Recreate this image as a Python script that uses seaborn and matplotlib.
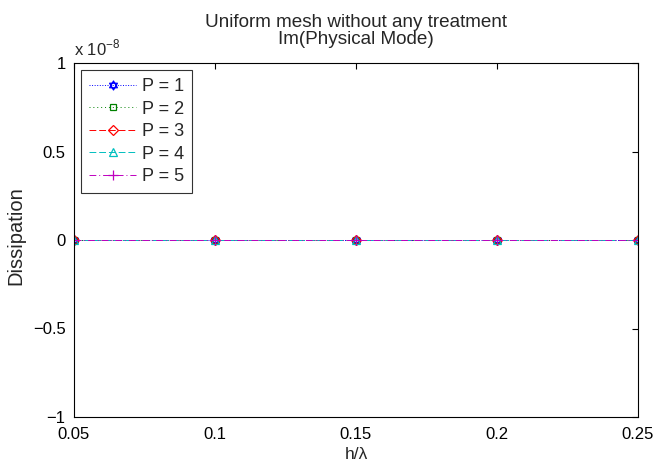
import numpy as np
import pandas as pd
import matplotlib
matplotlib.use("Agg")
import matplotlib.pyplot as plt
from matplotlib.path import Path
import seaborn as sns

# Data
h_over_lambda = [0.05, 0.10, 0.15, 0.20, 0.25]
dissipation_p1 = [0.0, 0.0, 0.0, 0.0, 0.0]
dissipation_p2 = [0.0, 0.0, 0.0, 0.0, 0.0]
dissipation_p3 = [0.0, 0.0, 0.0, 0.0, 0.0]
dissipation_p4 = [0.0, 0.0, 0.0, 0.0, 0.0]
dissipation_p5 = [0.0, 0.0, 0.0, 0.0, 0.0]
series_labels = ["P = 1", "P = 2", "P = 3", "P = 4", "P = 5"]
y_ticks = [-1, -0.5, 0, 0.5, 1]
y_ticklabels = ["\u22121", "\u22120.5", "0", "0.5", "1"]
x_ticks = [0.05, 0.1, 0.15, 0.2, 0.25]
x_ticklabels = ["0.05", "0.1", "0.15", "0.2", "0.25"]
scale = 1e-8

sns.set_theme(style="white")
plt.rcParams['font.family'] = ['Liberation Sans', 'DejaVu Sans']
plt.rcParams['mathtext.fontset'] = 'custom'
plt.rcParams['mathtext.rm'] = 'Liberation Sans'

# hexagram marker
ang1 = np.deg2rad([90, 210, 330])
ang2 = np.deg2rad([270, 30, 150])
verts = [(np.cos(a), np.sin(a)) for a in ang1] + [(0, 0)] + \
        [(np.cos(a), np.sin(a)) for a in ang2] + [(0, 0)]
codes = [Path.MOVETO, Path.LINETO, Path.LINETO, Path.CLOSEPOLY] * 2
hexagram = Path(verts, codes)

styles = [
    dict(color="#0000ff", linestyle=":", marker=hexagram, ms=6.5),
    dict(color="#008000", linestyle=(0, (1, 3)), marker="s", ms=4.5),
    dict(color="#ff0000", linestyle=(0, (7, 3)), marker="D", ms=5),
    dict(color="#00bfbf", linestyle=(0, (7, 3)), marker="^", ms=6),
    dict(color="#bf00bf", linestyle=(0, (7, 3, 1, 3)), marker="+", ms=7),
]
all_series = [dissipation_p1, dissipation_p2, dissipation_p3, dissipation_p4, dissipation_p5]

fig = plt.figure(figsize=(6.54, 4.63), dpi=100)
ax = fig.add_axes([74/654, 1-417/463, (638-74)/654, (417-63)/463])

for vals, lab, st in zip(all_series, series_labels, styles):
    yv = np.array(vals) / scale
    sns.lineplot(x=h_over_lambda, y=yv, ax=ax, label=lab, color=st["color"],
                 linestyle=st["linestyle"], marker=st["marker"], markersize=st["ms"],
                 markerfacecolor="none", markeredgecolor=st["color"],
                 markeredgewidth=0.9, linewidth=0.7, errorbar=None)

ax.set_xlim(0.05, 0.25)
ax.set_ylim(-1, 1)
ax.set_xticks(x_ticks)
ax.set_xticklabels(x_ticklabels)
ax.set_yticks(y_ticks)
ax.set_yticklabels(y_ticklabels)
ax.tick_params(direction="in", top=True, right=True, length=4, width=0.8,
               labelsize=12, colors="black")
ax.tick_params(axis="x", pad=7)
ax.tick_params(axis="y", pad=6)
for sp in ax.spines.values():
    sp.set_visible(True)
    sp.set_color("black")
    sp.set_linewidth(0.8)

ax.set_xlabel("h/\u03bb", fontsize=12.5, labelpad=4)
ax.set_ylabel("Dissipation", fontsize=14.5)
ax.yaxis.set_label_coords(-0.087, 0.511)
ax.set_title("Uniform mesh without any treatment\nIm(Physical Mode)", fontsize=13.6,
             pad=14, linespacing=0.98)
ax.text(0.0, 1.012, r"x 10$^{-8}$", transform=ax.transAxes, fontsize=12,
        ha="left", va="bottom")

leg = ax.legend(loc="upper left", fontsize=13, frameon=True, fancybox=False,
                edgecolor="black", borderpad=0.45, labelspacing=0.3,
                handlelength=2.6, handletextpad=0.3, borderaxespad=0.4)
leg.get_frame().set_linewidth(0.8)

fig.savefig("out.png", dpi=100)
